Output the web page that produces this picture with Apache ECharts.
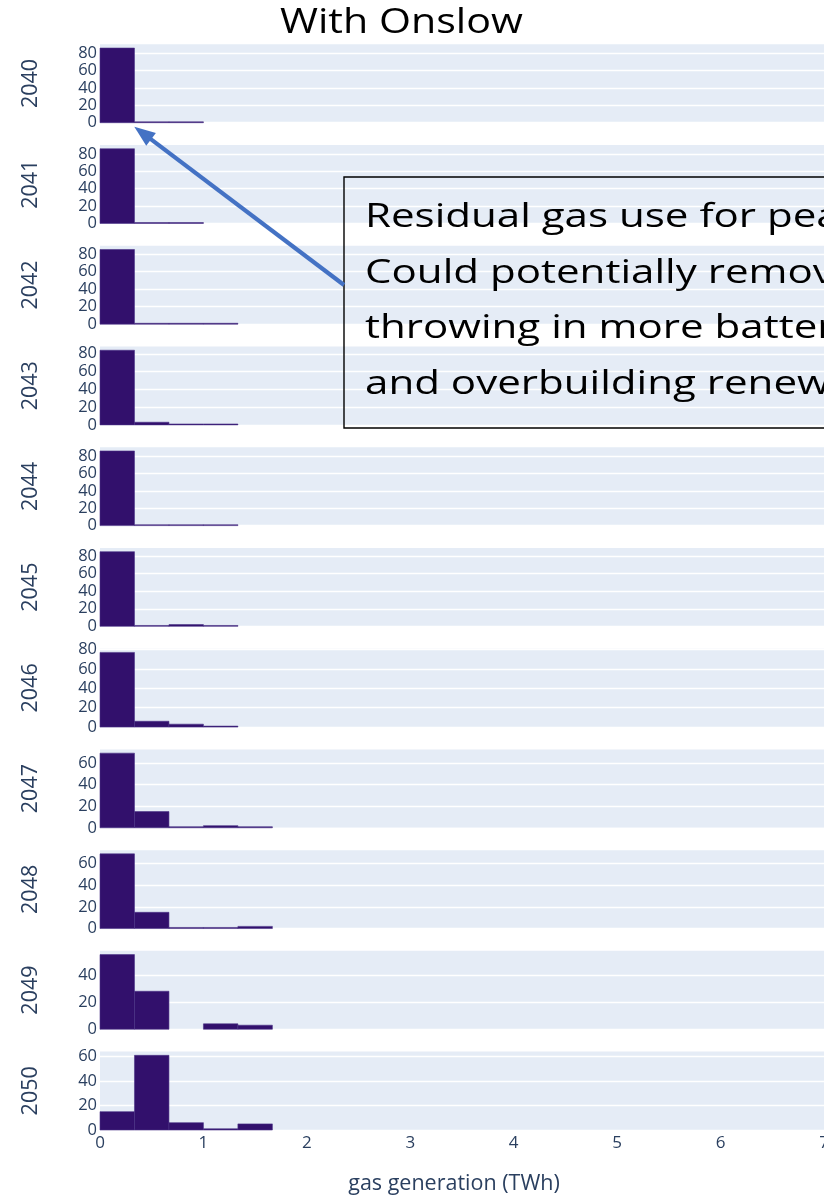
<!DOCTYPE html>
<html><head><meta charset="utf-8">
<script src="https://cdn.jsdelivr.net/npm/echarts@6/dist/echarts.min.js"></script>
<style>html,body{margin:0;padding:0;background:#fff}#c{width:824px;height:1199px}</style>
</head><body><div id="c"></div>
<script>
// ---- data ----
const years = ['2040','2041','2042','2043','2044','2045','2046','2047','2048','2049','2050'];
const binEdges = [0, 0.3333, 0.6667, 1, 1.3333, 1.6667];
const counts2040 = [86, 1, 1, 0, 0];
const counts2041 = [86, 1, 1, 0, 0];
const counts2042 = [85, 1, 1, 1, 0];
const counts2043 = [84, 3, 1, 1, 0];
const counts2044 = [86, 1, 1, 1, 0];
const counts2045 = [85, 1, 2, 1, 0];
const counts2046 = [77, 6, 3, 1, 0];
const counts2047 = [69, 15, 1, 2, 1];
const counts2048 = [69, 15, 1, 1, 2];
const counts2049 = [55, 28, 0, 4, 3];
const counts2050 = [15, 61, 6, 1, 5];
const xTicks = [0, 1, 2, 3, 4, 5, 6, 7];
const yTickStep = 20;
const titleText = 'With Onslow';
const xTitle = 'gas generation (TWh)';
const noteLines = ['Residual gas use for peak demand.', 'Could potentially remove by', 'throwing in more batteries', 'and overbuilding renewables'];

const allCounts = [counts2040, counts2041, counts2042, counts2043, counts2044, counts2045,
                   counts2046, counts2047, counts2048, counts2049, counts2050];

const barColor = '#32106c';
const fontColor = '#2a3f5f';
const FF = 'Open Sans';

const grids = [], xAxes = [], yAxes = [], series = [];
years.forEach((yr, i) => {
  const counts = allCounts[i];
  const last = i === years.length - 1;
  grids.push({left: 100, right: 0, top: 44.3 + i * 100.73, height: 78.4, outerBoundsMode: 'none',
    containLabel: false, show: true, backgroundColor: '#E5ECF6', borderWidth: 0});
  xAxes.push({type: 'value', gridIndex: i, min: xTicks[0], max: xTicks[xTicks.length - 1], interval: 1,
    axisLine: {show: false}, axisTick: {show: false}, splitLine: {show: false},
    axisLabel: {show: last, fontFamily: FF, fontSize: 17, color: fontColor, margin: 5, showMaxLabel: true},
    name: last ? xTitle : '', nameLocation: 'middle', nameGap: 43,
    nameTextStyle: {fontFamily: FF, fontSize: 21.5, color: fontColor, padding: [0, 16, 0, 0]}});
  yAxes.push({type: 'value', gridIndex: i, min: 0, max: Math.max(...counts) * 1.05, interval: yTickStep,
    axisLine: {show: false}, axisTick: {show: false},
    splitLine: {show: true, showMaxLine: false, lineStyle: {color: '#ffffff', width: 1.3}},
    axisLabel: {fontFamily: FF, fontSize: 16.5, color: fontColor, margin: 3, showMaxLabel: false,
      formatter: v => (Math.abs(v % yTickStep) < 1e-6 ? String(Math.round(v)) : '')},
    name: yr, nameLocation: 'middle', nameRotate: 90, nameGap: 58,
    nameTextStyle: {fontFamily: FF, fontSize: 21.5, color: fontColor}});
  series.push({type: 'custom', xAxisIndex: i, yAxisIndex: i,
    data: counts.map((c, j) => [binEdges[j], binEdges[j + 1], c]),
    encode: {x: [0, 1], y: 2},
    renderItem: (params, api) => {
      const c = api.value(2);
      if (!c) return null;
      const p0 = api.coord([api.value(0), c]);
      const p1 = api.coord([api.value(1), 0]);
      return {type: 'rect', shape: {x: p0[0], y: p0[1], width: p1[0] - p0[0], height: p1[1] - p0[1]},
        style: {fill: barColor, stroke: '#4a3286', lineWidth: 0.6}};
    }});
});

// arrow geometry (annotation)
const tip = [134.3, 126.7], tail = [344, 285];
const dx = tail[0] - tip[0], dy = tail[1] - tip[1], L = Math.hypot(dx, dy);
const ux = dx / L, uy = dy / L, hl = 21, hw = 8;
const bx = tip[0] + ux * hl, by = tip[1] + uy * hl;

const graphic = [
  {type: 'text', x: 280, y: 23, scaleX: 1.21, z: 100,
    style: {text: titleText, fontFamily: FF, fontSize: 34, fill: '#000', verticalAlign: 'middle', align: 'left'}},
  {type: 'rect', z: 100, shape: {x: 344, y: 177, width: 700, height: 251},
    style: {fill: 'none', stroke: '#000', lineWidth: 1.4}},
  {type: 'line', z: 100, shape: {x1: bx - ux * 2, y1: by - uy * 2, x2: tail[0], y2: tail[1]},
    style: {stroke: '#4472C4', lineWidth: 4.2}},
  {type: 'polygon', z: 100, shape: {points: [tip, [bx - uy * hw, by + ux * hw], [bx + uy * hw, by - ux * hw]]},
    style: {fill: '#4472C4'}}
];
const lineY = [217.5, 273.5, 329, 384.5];
noteLines.forEach((t, k) => {
  graphic.push({type: 'text', x: 365, y: lineY[k], scaleX: 1.315, z: 100,
    style: {text: t, fontFamily: FF, fontSize: 32, fill: '#000', verticalAlign: 'middle', align: 'left'}});
});

const chart = echarts.init(document.getElementById('c'), null, {renderer: 'canvas'});
chart.setOption({animation: false, backgroundColor: '#ffffff', grid: grids, xAxis: xAxes, yAxis: yAxes, series, graphic});
</script></body></html>
